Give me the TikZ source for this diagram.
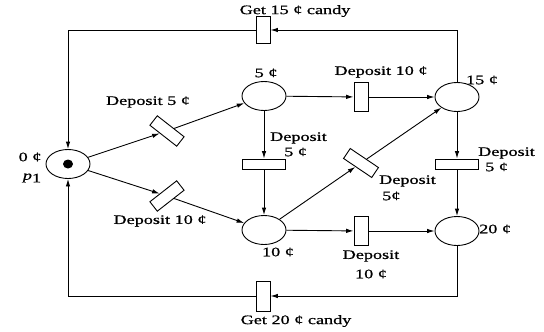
\documentclass[tikz,border=0pt]{standalone}
\usepackage{fontspec}
\setmainfont[FakeStretch=1.4,FakeBold=0.8]{Liberation Serif}
\usetikzlibrary{arrows.meta,shapes.geometric}
\begin{document}
\begin{tikzpicture}[x=1pt,y=-1pt,
  every node/.style={font=\fontsize{13}{15}\selectfont},
  place/.style={ellipse,draw,line width=0.9pt,minimum width=44pt,minimum height=29pt,inner sep=0pt},
  trans/.style={rectangle,draw,line width=0.9pt,inner sep=0pt,fill=white},
  vtrans/.style={trans,minimum width=14pt,minimum height=29pt},
  htrans/.style={trans,minimum width=43pt,minimum height=10pt},
  dtrans/.style={trans,minimum width=34pt,minimum height=12pt},
  lbl/.style={inner sep=0pt},
  arc/.style={line width=0.9pt,-{Latex[length=7.5pt,width=4.5pt]}}]
\useasboundingbox (0,0) rectangle (544,332);
% places
\node[place] (P1) at (68,164) {};
\fill (68,164) ellipse (5pt and 4.5pt);
\node[place] (P5) at (264,96) {};
\node[place] (P15) at (457,97) {};
\node[place] (P10) at (264,230) {};
\node[place] (P20) at (457,231) {};
% transitions
\node[vtrans,minimum height=27pt] (G15) at (263,30) {};
\node[vtrans,minimum height=30pt] (G20) at (263,296) {};
\node[vtrans] (D10b) at (361,97) {};
\node[vtrans] (D10c) at (361,231) {};
\node[htrans] (D5b) at (264,164) {};
\node[htrans] (D5d) at (457,164) {};
\node[dtrans,rotate=-38] (D5a) at (167,131) {};
\node[dtrans,rotate=38] (D10a) at (167,196) {};
\node[dtrans,rotate=-34] (D5c) at (361,163) {};
% arcs
\draw[arc] (P1) -- (D5a);
\draw[arc] (D5a) -- (P5);
\draw[arc] (P1) -- (D10a);
\draw[arc] (D10a) -- (P10);
\draw[arc] (P5) -- (D10b);
\draw[arc] (D10b) -- (P15);
\draw[arc] (P5) -- (D5b);
\draw[arc] (D5b) -- (P10);
\draw[arc] (P10) -- (D5c);
\draw[arc] (D5c) -- (P15);
\draw[arc] (P10) -- (D10c);
\draw[arc] (D10c) -- (P20);
\draw[arc] (P15) -- (D5d);
\draw[arc] (D5d) -- (P20);
\draw[arc] (P15) |- (G15);
\draw[arc] (G15) -| (P1);
\draw[arc] (P20) |- (G20);
\draw[arc] (G20) -| (P1);
% labels
\node[lbl] (lG15) at (295,11) {Get 15 ¢ candy};
\node[lbl] (lG20) at (296,321) {Get 20 ¢ candy};
\node[lbl] (l5) at (266,73) {5 ¢};
\node[lbl] (l15) at (482,80) {15 ¢};
\node[lbl] (l10) at (278,252) {10 ¢};
\node[lbl,anchor=west] (l20) at (479,229) {20 ¢};
\node[lbl] (l0) at (30,157) {0 ¢};
\node[lbl] (lp1) at (32,178) {\itshape p\upshape\raisebox{-0.45ex}{1}};
\node[lbl] (lD10b) at (381,72) {Deposit 10 ¢};
\node[lbl] (lD5a) at (148,102) {Deposit 5 ¢};
\node[lbl] (lD10a) at (160,221) {Deposit 10 ¢};
\node[lbl,anchor=west] (lD5b1) at (270,138) {Deposit};
\node[lbl,anchor=west] (lD5b2) at (284,152) {5 ¢};
\node[lbl,anchor=west] (lD5d1) at (478,153) {Deposit};
\node[lbl,anchor=west] (lD5d2) at (485,167) {5 ¢};
\node[lbl,anchor=west] (lD5c1) at (379,181) {Deposit};
\node[lbl,anchor=west] (lD5c2) at (382,196) {5¢};
\node[lbl] (lD10c1) at (371,256) {Deposit};
\node[lbl] (lD10c2) at (371,274) {10 ¢};
\end{tikzpicture}
\end{document}
